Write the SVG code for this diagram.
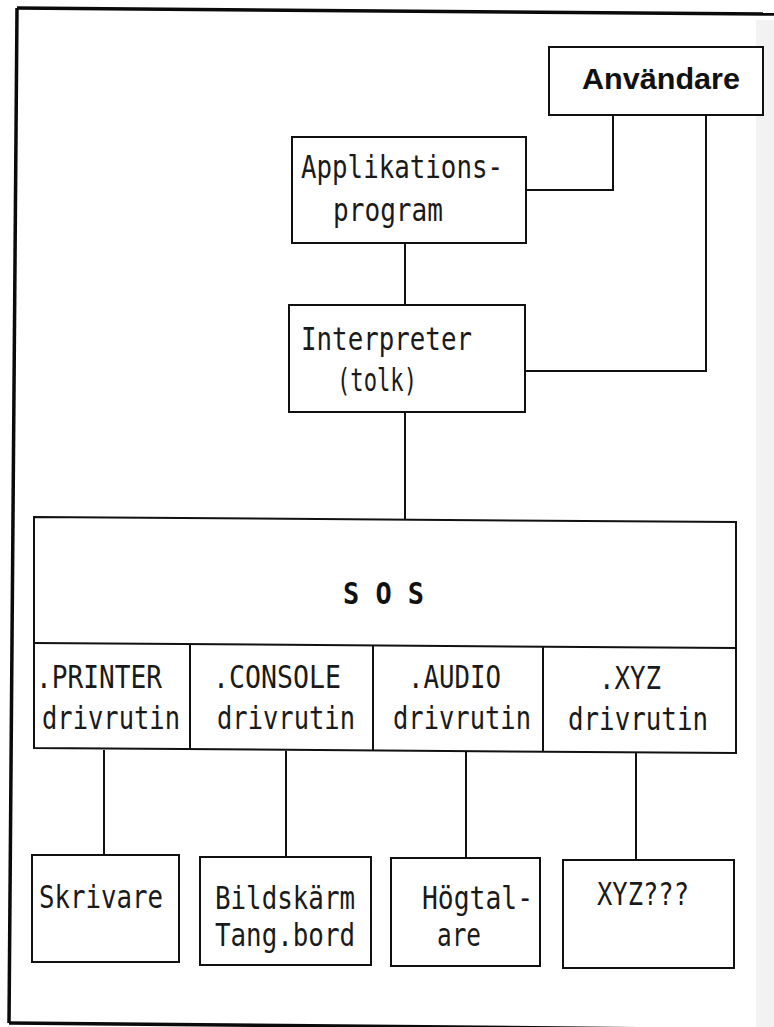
<svg xmlns="http://www.w3.org/2000/svg" width="774" height="1027" viewBox="0 0 774 1027">
<style>
.box{fill:#fff;stroke:#111;stroke-width:2}
.ln{fill:none;stroke:#111;stroke-width:2}
.fr{fill:none;stroke:#0a0a0a;stroke-width:3.5}
.t{font-family:"DejaVu Sans Mono","Liberation Mono",monospace;font-size:32px;fill:#1a1a1a}
.b{font-family:"DejaVu Sans Mono","Liberation Mono",monospace;font-size:31px;font-weight:bold;fill:#111}
.u{font-family:"Liberation Sans","DejaVu Sans",sans-serif;font-size:30px;font-weight:bold;fill:#111}
</style>
<rect width="774" height="1027" fill="#fff"/>
<rect x="756" y="20" width="18" height="1007" fill="#f2f2f2"/>
<g id="frame">
<path class="fr" d="M17,8 L774,14"/>
<path class="fr" d="M17,8 L9,1023"/>
<path class="fr" d="M9,1023 L774,1030"/>
</g>
<g id="connectors">
<path class="ln" d="M613,115 V190 H526"/>
<path class="ln" d="M706,115 V371 H525"/>
<path class="ln" d="M405,243 V305"/>
<path class="ln" d="M405,412 V519"/>
<path class="ln" d="M104,750 V855"/>
<path class="ln" d="M286,751 V857"/>
<path class="ln" d="M466,752 V858"/>
<path class="ln" d="M636,752 V860"/>
</g>
<g id="anvandare">
<rect class="box" x="549" y="47" width="214" height="68"/>
<text class="u" x="582" y="89" textLength="158" lengthAdjust="spacingAndGlyphs">Användare</text>
</g>
<g id="applikationsprogram">
<rect class="box" x="292" y="137" width="234" height="106"/>
<text class="t" x="301" y="178" textLength="202" lengthAdjust="spacingAndGlyphs">Applikations-</text>
<text class="t" x="333" y="221" textLength="110" lengthAdjust="spacingAndGlyphs">program</text>
</g>
<g id="interpreter">
<rect class="box" x="289" y="305" width="236" height="107"/>
<text class="t" x="301" y="350" textLength="171" lengthAdjust="spacingAndGlyphs">Interpreter</text>
<text class="t" x="337" y="391" textLength="80" lengthAdjust="spacingAndGlyphs">(tolk)</text>
</g>
<g id="sos">
<path class="box" d="M34,517 L736,522 L736,753 L34,748 Z"/>
<path class="ln" d="M34,643 L736,648"/>
<path class="ln" d="M190,644 V749 M373,645 V751 M543,646 V752"/>
<text class="b" x="343" y="604" textLength="81" lengthAdjust="spacingAndGlyphs">S O S</text>
</g>
<g id="printer-driver">
<text class="t" x="36" y="688" textLength="126" lengthAdjust="spacingAndGlyphs">.PRINTER</text>
<text class="t" x="42" y="729" textLength="138" lengthAdjust="spacingAndGlyphs">drivrutin</text>
</g>
<g id="console-driver">
<text class="t" x="213" y="688" textLength="128" lengthAdjust="spacingAndGlyphs">.CONSOLE</text>
<text class="t" x="217" y="729" textLength="138" lengthAdjust="spacingAndGlyphs">drivrutin</text>
</g>
<g id="audio-driver">
<text class="t" x="408" y="688" textLength="93" lengthAdjust="spacingAndGlyphs">.AUDIO</text>
<text class="t" x="393" y="729" textLength="138" lengthAdjust="spacingAndGlyphs">drivrutin</text>
</g>
<g id="xyz-driver">
<text class="t" x="599" y="689" textLength="62" lengthAdjust="spacingAndGlyphs">.XYZ</text>
<text class="t" x="568" y="730" textLength="140" lengthAdjust="spacingAndGlyphs">drivrutin</text>
</g>
<g id="skrivare">
<rect class="box" x="32" y="855" width="147" height="107"/>
<text class="t" x="39" y="908" textLength="124" lengthAdjust="spacingAndGlyphs">Skrivare</text>
</g>
<g id="bildskarm">
<rect class="box" x="200" y="857" width="171" height="108"/>
<text class="t" x="215" y="909" textLength="140" lengthAdjust="spacingAndGlyphs">Bildskärm</text>
<text class="t" x="215" y="946" textLength="140" lengthAdjust="spacingAndGlyphs">Tang.bord</text>
</g>
<g id="hogtalare">
<rect class="box" x="391" y="858" width="149" height="108"/>
<text class="t" x="422" y="909" textLength="111" lengthAdjust="spacingAndGlyphs">Högtal-</text>
<text class="t" x="437" y="946" textLength="44" lengthAdjust="spacingAndGlyphs">are</text>
</g>
<g id="xyz">
<rect class="box" x="563" y="860" width="171" height="108"/>
<text class="t" x="597" y="905" textLength="92" lengthAdjust="spacingAndGlyphs">XYZ???</text>
</g>
</svg>
